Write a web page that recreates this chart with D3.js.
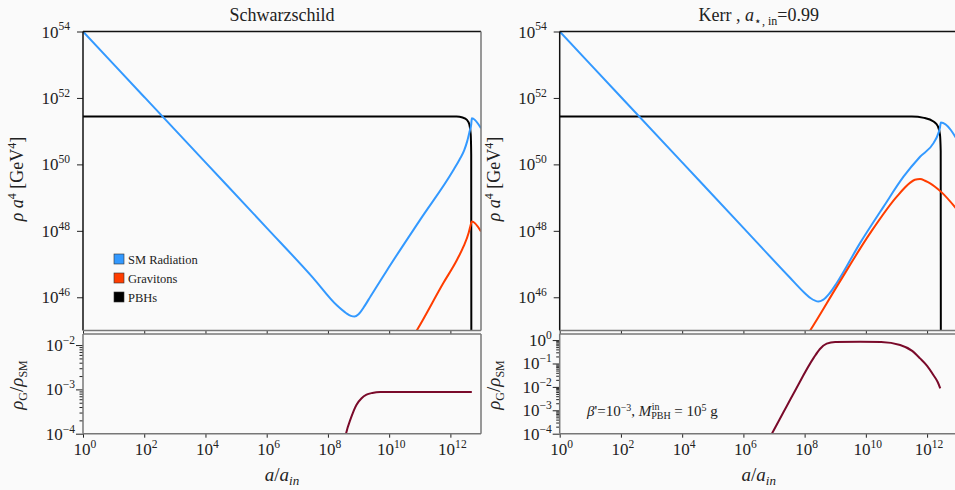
<!DOCTYPE html>
<html>
<head>
<meta charset="utf-8">
<script src="https://cdn.jsdelivr.net/npm/d3@7"></script>
<style>
body { margin: 0; background: #fafafa; overflow: hidden; }
text { font-family: "Liberation Serif", "DejaVu Serif", serif; fill: #222; }
</style>
</head>
<body>
<div class="canva"></div>
<script>
// all values are log10 exponents

// x ticks (a/a_in) : 10^0 ... 10^12
const xTickExp = [0, 2, 4, 6, 8, 10, 12];
const topTickExp = [46, 48, 50, 52, 54];
const schwRatioTickExp = [-4, -3, -2];
const kerrRatioTickExp = [-4, -3, -2, -1, 0];

const legendNames = ["SM Radiation", "Gravitons", "PBHs"];
const legendColors = ["#3399ff", "#ff3d00", "#000000"];

// Schwarzschild
const schwSmX = [0, 2, 4, 6, 7.5, 8.3, 8.6, 8.75, 8.87, 9.0, 9.2, 9.4, 9.6, 9.92, 11.01, 12.10, 12.3, 12.45, 12.55, 12.63, 12.68, 12.70, 13.0];
const schwSmY = [54, 52.03, 50.06, 48.09, 46.6, 45.75, 45.52, 45.44, 45.42, 45.49, 45.74, 46.04, 46.33, 46.8, 48.33, 49.83, 50.15, 50.42, 50.7, 51.0, 51.2, 51.39, 51.09];
const schwGravX = [10.7, 10.9, 11.77, 12.2, 12.43, 12.6, 12.65, 12.70, 13.0];
const schwGravY = [44.7, 45.0, 46.43, 47.1, 47.53, 47.95, 48.13, 48.28, 47.98];
const schwPbhX = [0, 12.2, 12.4, 12.54, 12.62, 12.665, 12.68, 12.685];
const schwPbhY = [51.44, 51.44, 51.41, 51.34, 51.2, 50.9, 50.3, 44];
const schwRatioX = [8.5, 8.59, 8.75, 8.93, 9.1, 9.26, 9.45, 9.71, 10.5, 12.70];
const schwRatioY = [-4.3, -4.0, -3.65, -3.35, -3.2, -3.12, -3.08, -3.06, -3.06, -3.06];

// Kerr, a* = 0.99
const kerrSmX = [0, 2, 4, 6, 7.5, 8.0, 8.2, 8.45, 8.6, 8.8, 9.05, 9.81, 10.58, 11.23, 11.77, 12.21, 12.37, 12.42, 12.45, 13.1];
const kerrSmY = [54, 52.03, 50.06, 48.09, 46.61, 46.13, 45.97, 45.87, 45.92, 46.1, 46.43, 47.63, 48.73, 49.63, 50.23, 50.64, 50.94, 51.1, 51.26, 50.54];
const kerrGravX = [8.0, 8.18, 9.05, 10.14, 11.01, 11.45, 11.6, 11.77, 11.95, 12.10, 12.45, 13.1];
const kerrGravY = [44.75, 45.0, 46.32, 47.93, 49.03, 49.45, 49.54, 49.56, 49.5, 49.43, 49.18, 48.5];
const kerrPbhX = [0, 11.5, 11.9, 12.21, 12.35, 12.42, 12.445, 12.45];
const kerrPbhY = [51.44, 51.44, 51.4, 51.29, 51.15, 50.9, 50.4, 44];
const kerrRatioX = [6.8, 6.93, 7.63, 8.3, 8.5, 8.72, 9.0, 9.81, 10.5, 11.12, 11.5, 11.77, 12.0, 12.21, 12.35, 12.43];
const kerrRatioY = [-4.3, -4.0, -2.3, -0.75, -0.38, -0.15, -0.08, -0.07, -0.08, -0.21, -0.45, -0.78, -1.1, -1.5, -1.8, -2.06];

const zip = (a, b) => a.map((v, i) => [v, b[i]]);

const svg = d3.select('.canva').append('svg')
    .attr('width', 960)
    .attr('height', 490)
    .style('display', 'block');

// small helper for text with super/subscripts
function rich(sel, parts) {
    let shift = 0;
    parts.forEach(p => {
        const ts = sel.append('tspan').text(p.t);
        let want = p.sup ? -p.sup : (p.sub ? p.sub : 0);
        if (want !== shift) { ts.attr('dy', want - shift); shift = want; }
        if (p.dx) ts.attr('dx', p.dx);
        if (p.it) ts.style('font-style', 'italic');
        if (p.size) ts.style('font-size', p.size + 'px');
    });
}
function powLabel(sel, exp, size) {
    const e = exp < 0 ? '\u2212' + (-exp) : String(exp);
    rich(sel, [{t: '10'}, {t: e, sup: size * 0.42, size: size * 0.68}]);
}

const TOP = [31.5, 330.5], BOT = [334, 433.7];

function panel(cfg) {
    const x = d3.scaleLog().domain([1, 1e13]).range([cfg.x0, cfg.x0 + 398]);
    const y = d3.scaleLog().domain([1e45, 1e54]).range([TOP[1], TOP[0]]);
    const yr = d3.scaleLog().domain([1e-4, Math.pow(10, cfg.rTop)]).range([BOT[1], BOT[0]]);
    const g = svg.append('g');
    const id = cfg.id;

    g.append('clipPath').attr('id', id + 't').append('rect')
        .attr('x', x.range()[0]).attr('y', TOP[0]).attr('width', 398).attr('height', TOP[1] - TOP[0]);
    g.append('clipPath').attr('id', id + 'b').append('rect')
        .attr('x', x.range()[0]).attr('y', BOT[0]).attr('width', 398).attr('height', BOT[1] - BOT[0]);

    // title
    const title = g.append('text').attr('x', cfg.x0 + 199).attr('y', 21)
        .attr('text-anchor', 'middle').style('font-size', '18px');
    rich(title, cfg.title);

    // y axis top
    g.append('g').attr('transform', `translate(${cfg.x0},0)`)
        .call(d3.axisLeft(y).tickValues(topTickExp.map(e => Math.pow(10, e))).tickSize(6).tickFormat(''))
        .call(a => a.select('.domain').remove())
        .selectAll('line').attr('stroke', '#222');
    topTickExp.forEach(e => {
        const t = g.append('text').attr('x', cfg.x0 - 13).attr('y', y(Math.pow(10, e)) + 6)
            .attr('text-anchor', 'end').style('font-size', '17px');
        powLabel(t, e, 17);
    });

    // y axis bottom (ratio), major + minor
    const rMajor = cfg.rTicks.map(e => Math.pow(10, e));
    const rMinor = [];
    cfg.rTicks.forEach(e => { for (let k = 2; k < 10; k++) { const v = k * Math.pow(10, e); if (v <= yr.domain()[1]) rMinor.push(v); } });
    g.append('g').attr('transform', `translate(${cfg.x0},0)`)
        .call(d3.axisLeft(yr).tickValues(rMajor).tickSize(7).tickFormat(''))
        .call(a => a.select('.domain').remove())
        .selectAll('line').attr('stroke', '#222');
    g.append('g').attr('transform', `translate(${cfg.x0},0)`)
        .call(d3.axisLeft(yr).tickValues(rMinor).tickSize(3.5).tickFormat(''))
        .call(a => a.select('.domain').remove())
        .selectAll('line').attr('stroke', '#222');
    cfg.rTicks.forEach(e => {
        const t = g.append('text').attr('x', cfg.x0 - 8).attr('y', yr(Math.pow(10, e)) + 6)
            .attr('text-anchor', 'end').style('font-size', '17px');
        powLabel(t, e, 17);
    });

    // x axis
    const xt = xTickExp.map(e => Math.pow(10, e));
    g.append('g').attr('transform', `translate(0,${BOT[1]})`)
        .call(d3.axisBottom(x).tickValues(xt).tickSize(4).tickFormat(''))
        .call(a => a.select('.domain').remove())
        .selectAll('line').attr('stroke', '#222');
    g.append('g').attr('transform', `translate(0,${TOP[1]})`)
        .call(d3.axisBottom(x).tickValues(xt).tickSize(3.5).tickFormat(''))
        .call(a => a.select('.domain').remove())
        .selectAll('line').attr('stroke', '#222');
    xTickExp.forEach(e => {
        const t = g.append('text').attr('x', x(Math.pow(10, e)) + 2).attr('y', 455)
            .attr('text-anchor', 'middle').style('font-size', '17px');
        powLabel(t, e, 17);
    });

    // axis labels
    const yl = g.append('text').attr('transform', `translate(${cfg.x0 - 60},179) rotate(-90)`)
        .attr('text-anchor', 'middle').style('font-size', '18px');
    rich(yl, [{t: 'ρ', it: true}, {t: ' a', it: true}, {t: '4', sup: 7, size: 12}, {t: ' [GeV'}, {t: '4', sup: 7, size: 12}, {t: ']'}]);
    const rl = g.append('text').attr('transform', `translate(${cfg.x0 - 60},385) rotate(-90)`)
        .attr('text-anchor', 'middle').style('font-size', '19px');
    rich(rl, [{t: 'ρ', it: true}, {t: 'G', sub: 4, size: 12}, {t: '/'}, {t: 'ρ', it: true}, {t: 'SM', sub: 4, size: 12}]);
    const xl = g.append('text').attr('x', cfg.x0 + 199).attr('y', 481)
        .attr('text-anchor', 'middle').style('font-size', '19px');
    rich(xl, [{t: 'a', it: true}, {t: '/'}, {t: 'a', it: true}, {t: 'in', it: true, sub: 4, size: 13}]);

    // curves
    const line = yy => d3.line()
        .x(d => x(Math.pow(10, d[0])))
        .y(d => yy(Math.pow(10, d[1])))
        .curve(d3.curveMonotoneX);
    const top = g.append('g').attr('clip-path', `url(#${id}t)`);
    [[cfg.pbh, '#000000'], [cfg.sm, legendColors[0]], [cfg.grav, legendColors[1]]].forEach(([d, c]) => {
        top.append('path').datum(d).attr('d', line(y)).attr('fill', 'none')
            .attr('stroke', c).attr('stroke-width', 2).attr('stroke-linejoin', 'round');
    });
    g.append('g').attr('clip-path', `url(#${id}b)`).append('path').datum(cfg.ratio)
        .attr('d', line(yr)).attr('fill', 'none').attr('stroke', '#7a0a2a').attr('stroke-width', 2);

    // spines
    const xa = x.range()[0], xb = x.range()[1];
    const sp = (x1, y1, x2, y2, c) => g.append('line').attr('x1', x1).attr('y1', y1).attr('x2', x2).attr('y2', y2)
        .attr('stroke', c).attr('stroke-width', 1.5);
    sp(xa, TOP[0], xb, TOP[0], '#111');
    sp(xa, TOP[0], xa, TOP[1], '#111');
    sp(xb, TOP[0], xb, TOP[1], '#777');
    sp(xa, TOP[1], xb, TOP[1], '#777');
    sp(xa, BOT[0], xb, BOT[0], '#777');
    sp(xa, BOT[1], xb, BOT[1], '#777');
    sp(xa, BOT[0], xa, BOT[1], '#777');
    sp(xb, BOT[0], xb, BOT[1], '#777');
    return g;
}

const left = panel({
    id: 'schw', x0: 83, rTop: -1.75, rTicks: schwRatioTickExp,
    title: [{t: 'Schwarzschild'}],
    sm: zip(schwSmX, schwSmY), grav: zip(schwGravX, schwGravY), pbh: zip(schwPbhX, schwPbhY),
    ratio: zip(schwRatioX, schwRatioY)
});
const right = panel({
    id: 'kerr', x0: 559.7, rTop: 0.26, rTicks: kerrRatioTickExp,
    title: [{t: 'Kerr , '}, {t: 'a', it: true}, {t: '\u22c6, in', sub: 4, size: 12}, {t: '=0.99'}],
    sm: zip(kerrSmX, kerrSmY), grav: zip(kerrGravX, kerrGravY), pbh: zip(kerrPbhX, kerrPbhY),
    ratio: zip(kerrRatioX, kerrRatioY)
});

// legend (left panel)
const leg = left.append('g').attr('transform', 'translate(114,254)');
legendNames.forEach((n, i) => {
    leg.append('rect').attr('x', 0).attr('y', i * 19).attr('width', 10).attr('height', 10)
        .attr('fill', legendColors[i]).attr('stroke', '#333').attr('stroke-width', 0.6);
    leg.append('text').attr('x', 14).attr('y', i * 19 + 9.5).style('font-size', '12.5px').text(n);
});

// annotation (right panel); "in" stacked above "PBH"
const ann = right.append('text').attr('x', 587).attr('y', 416).style('font-size', '15px');
rich(ann, [{t: 'β', it: true}, {t: "'=10"}, {t: '\u22123', sup: 5, size: 10}, {t: ', '}, {t: 'M', it: true},
    {t: 'PBH', sub: 3, size: 10}, {t: 'in', sup: 6, size: 10, dx: -19}, {t: ' = 10', dx: 11}, {t: '5', sup: 5, size: 10}, {t: ' g'}]);
</script>
</body>
</html>
